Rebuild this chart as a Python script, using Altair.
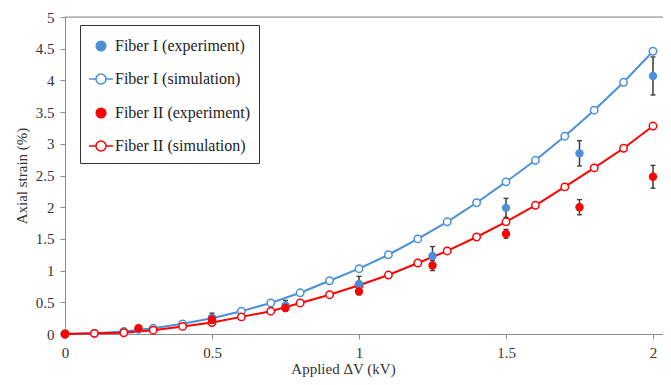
import altair as alt
import pandas as pd

# ---- data ----
sim_x = [0.0, 0.1, 0.2, 0.3, 0.4, 0.5, 0.6, 0.7, 0.8, 0.9, 1.0,
         1.1, 1.2, 1.3, 1.4, 1.5, 1.6, 1.7, 1.8, 1.9, 2.0]
sim_fiber1 = [0.0, 0.01, 0.04, 0.09, 0.16, 0.25, 0.36, 0.49, 0.65, 0.84, 1.03,
              1.25, 1.50, 1.77, 2.07, 2.40, 2.74, 3.12, 3.53, 3.97, 4.46]
sim_fiber2 = [0.0, 0.01, 0.02, 0.06, 0.12, 0.18, 0.27, 0.36, 0.49, 0.62, 0.77,
              0.93, 1.12, 1.31, 1.53, 1.77, 2.03, 2.32, 2.62, 2.93, 3.28]

exp_x = [0.0, 0.25, 0.5, 0.75, 1.0, 1.25, 1.5, 1.75, 2.0]
exp_fiber1 = [0.0, 0.07, 0.25, 0.45, 0.79, 1.23, 1.99, 2.85, 4.07]
err_fiber1 = [0.0, 0.02, 0.08, 0.08, 0.12, 0.15, 0.15, 0.2, 0.3]
exp_fiber2 = [0.0, 0.09, 0.23, 0.41, 0.67, 1.08, 1.58, 2.0, 2.48]
err_fiber2 = [0.0, 0.02, 0.05, 0.05, 0.05, 0.08, 0.07, 0.12, 0.18]

legend_labels = ["Fiber I (experiment)", "Fiber I (simulation)",
                 "Fiber II (experiment)", "Fiber II (simulation)"]

x_ticks = [0, 0.5, 1, 1.5, 2]
y_ticks = [0, 0.5, 1, 1.5, 2, 2.5, 3, 3.5, 4, 4.5, 5]

BLUE = "#4A90D9"
RED = "#FF0000"
ERR = "#3a3a3a"
FONT = "'Liberation Serif', 'Times New Roman', 'DejaVu Serif', serif"

sim1 = pd.DataFrame({"v": sim_x, "s": sim_fiber1})
sim2 = pd.DataFrame({"v": sim_x, "s": sim_fiber2})
exp1 = pd.DataFrame({"v": exp_x, "s": exp_fiber1,
                     "lo": [a - b for a, b in zip(exp_fiber1, err_fiber1)],
                     "hi": [a + b for a, b in zip(exp_fiber1, err_fiber1)]})
exp2 = pd.DataFrame({"v": exp_x, "s": exp_fiber2,
                     "lo": [a - b for a, b in zip(exp_fiber2, err_fiber2)],
                     "hi": [a + b for a, b in zip(exp_fiber2, err_fiber2)]})
exp1 = exp1[exp1["hi"] - exp1["lo"] > 0.05]
exp2 = exp2[exp2["hi"] - exp2["lo"] > 0.05]
exp1_all = pd.DataFrame({"v": exp_x, "s": exp_fiber1})
exp2_all = pd.DataFrame({"v": exp_x, "s": exp_fiber2})

W = 598
H = 317
XMAX = 2 * W / 588.0

xscale = alt.Scale(domain=[0, XMAX], nice=False, zero=False)
yscale = alt.Scale(domain=[0, 5], nice=False)

xaxis = alt.Axis(values=x_ticks, title="Applied \u0394V (kV)", grid=False,
                 labelFont=FONT, labelFontSize=15, labelColor="#333",
                 titleFont=FONT, titleFontSize=15, titleFontWeight="normal",
                 titleColor="#333", domainColor="#8c8c8c", tickColor="#8c8c8c",
                 tickSize=5, labelPadding=6, titleX=278, titleY=39,
                 titleAnchor="middle", titleBaseline="alphabetic",
                 format="~g", labelFlush=False, labelOverlap=False)
yaxis = alt.Axis(values=y_ticks, title="Axial strain (%)", grid=False,
                 labelFont=FONT, labelFontSize=15, labelColor="#333",
                 titleFont=FONT, titleFontSize=15, titleFontWeight="normal",
                 titleColor="#333", domainColor="#8c8c8c", tickColor="#8c8c8c",
                 tickSize=5, labelPadding=6, titlePadding=6,
                 format="~g", labelFlush=False, labelOverlap=False)

X = alt.X("v:Q", scale=xscale, axis=xaxis)
Y = alt.Y("s:Q", scale=yscale, axis=yaxis)


def sim_layers(df, col):
    line = alt.Chart(df).mark_line(color=col, strokeWidth=2).encode(x=X, y=Y)
    pts = alt.Chart(df).mark_point(shape="circle", size=55, filled=True,
                                   fill="white", stroke=col, strokeWidth=1.5,
                                   opacity=1).encode(x=X, y=Y)
    return line + pts


def err_layers(df):
    bar = alt.Chart(df).mark_rule(color=ERR, strokeWidth=1.5).encode(
        x=X, y=alt.Y("lo:Q", scale=yscale, axis=yaxis), y2="hi:Q")
    cap_hi = alt.Chart(df).mark_rule(color=ERR, strokeWidth=1.3,
                                     xOffset=-2.5, x2Offset=2.5).encode(
        x=X, x2="v:Q", y=alt.Y("hi:Q", scale=yscale, axis=yaxis))
    cap_lo = alt.Chart(df).mark_rule(color=ERR, strokeWidth=1.3,
                                     xOffset=-2.5, x2Offset=2.5).encode(
        x=X, x2="v:Q", y=alt.Y("lo:Q", scale=yscale, axis=yaxis))
    return bar + cap_hi + cap_lo


def exp_points(df, col):
    return alt.Chart(df).mark_circle(size=70, color=col, opacity=1).encode(
        x=X, y=Y)


top_line = alt.Chart(pd.DataFrame({"s": [5]})).mark_rule(
    color="#8c8c8c", strokeWidth=1).encode(y=Y)

# legend built from the scales of an empty layer
SIM_PATH = ("M-1,0H-0.42M0.42,0H1"
            "M-0.42,0A0.42,0.42 0 1,0 0.42,0A0.42,0.42 0 1,0 -0.42,0Z")
EXP_PATH = "M-0.4,0A0.4,0.4 0 1,0 0.4,0A0.4,0.4 0 1,0 -0.4,0Z"
leg_df = pd.DataFrame({"series": legend_labels, "v": [0] * 4, "s": [0] * 4})
legend = alt.Legend(title=None, orient="none", legendX=15, legendY=8,
                    labelFont=FONT, labelFontSize=16, labelColor="#222",
                    symbolSize=576, symbolStrokeWidth=1.5, symbolOpacity=1,
                    padding=8, rowPadding=12, labelOffset=1,
                    strokeColor="#333", fillColor="white")
leg_layer = alt.Chart(leg_df).transform_filter("datum.v > 100").mark_point(
    filled=True).encode(
    x=X, y=Y,
    fill=alt.Fill("series:N", scale=alt.Scale(domain=legend_labels,
                  range=[BLUE, "white", RED, "white"]), legend=legend),
    stroke=alt.Stroke("series:N", scale=alt.Scale(domain=legend_labels,
                      range=[BLUE, BLUE, RED, RED]), legend=legend),
    shape=alt.Shape("series:N", scale=alt.Scale(domain=legend_labels,
                    range=[EXP_PATH, SIM_PATH, EXP_PATH, SIM_PATH]),
                    legend=legend),
)

chart = alt.layer(
    sim_layers(sim1, BLUE),
    top_line,
    sim_layers(sim2, RED),
    err_layers(exp1),
    err_layers(exp2),
    exp_points(exp1_all, BLUE),
    exp_points(exp2_all, RED),
    leg_layer,
).properties(
    width=W, height=H,
    autosize=alt.AutoSizeParams(type="none"),
    padding={"left": 57, "top": 9, "right": 0, "bottom": 43},
).configure_view(stroke=None).configure(background="white")

chart.save("out.html", embed_options={"renderer": "svg", "actions": False})
